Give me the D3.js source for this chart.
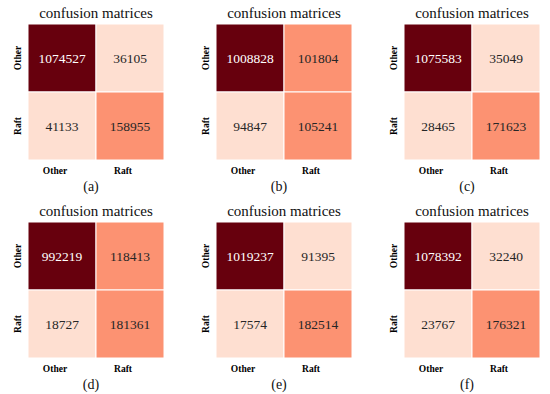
<!DOCTYPE html>
<html>
<head>
<meta charset="utf-8">
<script src="https://cdn.jsdelivr.net/npm/d3@7"></script>
<style>
  body { margin: 0; background: #fff; }
  svg { display: block; }
  svg text { font-family: "Liberation Serif", "Times New Roman", serif !important; }
</style>
</head>
<body>
<div id="chart"></div>
<script>
  const classes = ["Other", "Raft"];
  const panelNames = ["(a)", "(b)", "(c)", "(d)", "(e)", "(f)"];
  // each matrix: [[TN, FP], [FN, TP]] read row by row
  const matA = [[1074527, 36105], [41133, 158955]];
  const matB = [[1008828, 101804], [94847, 105241]];
  const matC = [[1075583, 35049], [28465, 171623]];
  const matD = [[992219, 118413], [18727, 181361]];
  const matE = [[1019237, 91395], [17574, 182514]];
  const matF = [[1078392, 32240], [23767, 176321]];
  const matrices = [matA, matB, matC, matD, matE, matF];

  const width = 550;
  const height = 394;
  const cols = 3;
  const colStep = 188;
  const rowStep = 198;
  const left0 = 28;
  const top0 = 24;
  const size = 136;

  // colour bands
  const colorScale = d3.scaleThreshold()
    .domain([100000, 500000])
    .range(["#fedfd1", "#fc9272", "#67000d"]);

  const svg = d3.select("#chart")
    .append("svg")
    .attr("width", width)
    .attr("height", height);

  const x = d3.scaleBand().domain(classes).range([0, size]);
  const y = d3.scaleBand().domain(classes).range([0, size]);

  matrices.forEach(function(mat, p) {
    const col = p % cols;
    const row = Math.floor(p / cols);
    const g = svg.append("g")
      .attr("transform", "translate(" + (left0 + col * colStep) + "," + (top0 + row * rowStep) + ")");

    const cells = [];
    mat.forEach((r, i) => r.forEach((v, j) => cells.push({ row: classes[i], col: classes[j], v: v })));

    g.selectAll("rect")
      .data(cells)
      .enter()
      .append("rect")
      .attr("x", d => x(d.col))
      .attr("y", d => y(d.row))
      .attr("width", x.bandwidth())
      .attr("height", y.bandwidth())
      .attr("fill", d => colorScale(d.v))
      .attr("stroke", "#fff")
      .attr("stroke-width", 1);

    g.selectAll("text.val")
      .data(cells)
      .enter()
      .append("text")
      .attr("class", "val")
      .attr("x", d => x(d.col) + x.bandwidth() / 2)
      .attr("y", d => y(d.row) + y.bandwidth() / 2)
      .attr("dy", "0.35em")
      .attr("text-anchor", "middle")
      .style("font-size", "13.5px")
      .attr("fill", d => d.v > 500000 ? "#fff" : "#262626")
      .text(d => d.v);

    //AXES (labels only)
    const xAxis = d3.axisBottom(x).tickSize(0).tickPadding(7);
    const gx = g.append("g")
      .attr("transform", "translate(-7," + size + ")")
      .call(xAxis);
    gx.select(".domain").remove();
    gx.selectAll("text")
      .style("font-size", "9.5px")
      .style("font-weight", "bold")
      .attr("fill", "#000");

    const yAxis = d3.axisLeft(y).tickSize(0);
    const gy = g.append("g").call(yAxis);
    gy.select(".domain").remove();
    gy.selectAll("text")
      .style("font-size", "9.5px")
      .style("font-weight", "bold")
      .attr("fill", "#000")
      .attr("text-anchor", "middle")
      .attr("transform", "rotate(-90)")
      .attr("x", 0)
      .attr("dy", null)
      .attr("y", -7);

    //TITLE AND CAPTION
    g.append("text")
      .attr("x", size / 2)
      .attr("y", -6.5)
      .attr("text-anchor", "middle")
      .style("font-size", "15px")
      .attr("fill", "#111")
      .text("confusion matrices");

    g.append("text")
      .attr("x", size / 2 - 5)
      .attr("y", size + 31)
      .attr("text-anchor", "middle")
      .style("font-size", "14px")
      .attr("fill", "#111")
      .text(panelNames[p]);
  });
</script>
</body>
</html>
